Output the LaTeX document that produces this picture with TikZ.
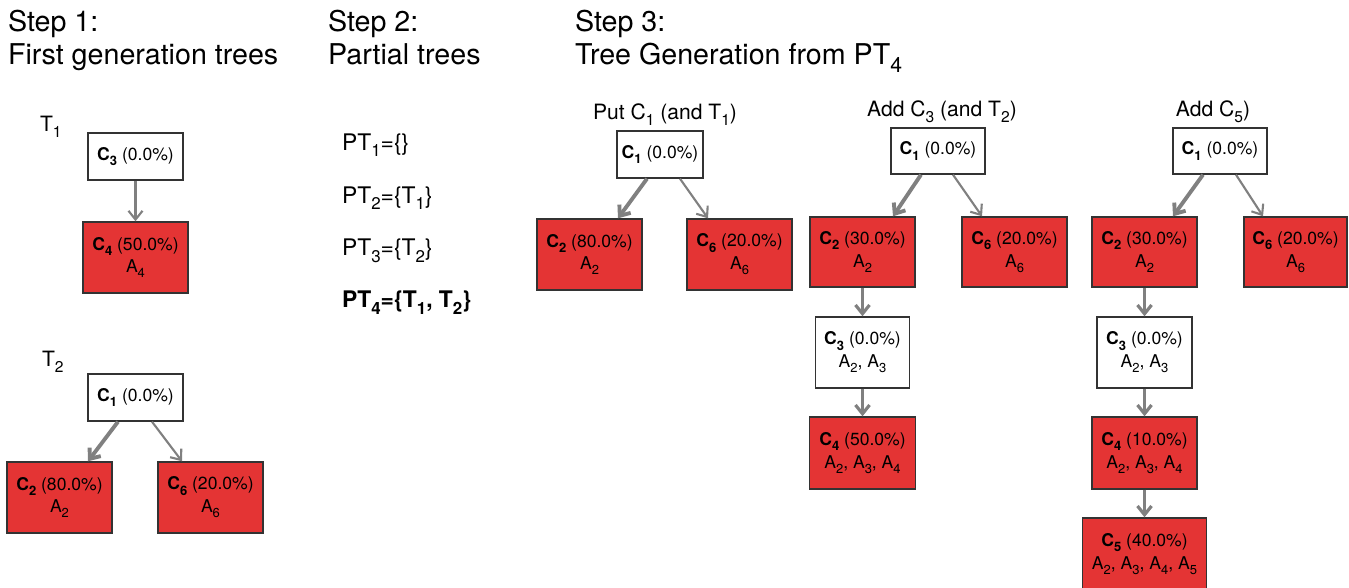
\documentclass[tikz,border=0pt]{standalone}
\usepackage{fontspec}
\setmainfont{TeX Gyre Heros}
\usepackage{xcolor}
\usetikzlibrary{arrows.meta}
\usetikzlibrary{positioning}

\definecolor{boxred}{RGB}{228,52,52}
\definecolor{arrgray}{RGB}{128,128,128}

\newcommand{\sbs}[1]{\raisebox{-0.55ex}{\scalebox{0.74}{#1}}}
\newcommand{\clab}[2]{\textbf{C\sbs{#1}} (#2\%)}
\newcommand{\asub}[1]{A\sbs{#1}}

\begin{document}
\begin{tikzpicture}[
			x=0.02cm, y=-0.02cm,
			every node/.style={font=\fontsize{10}{13}\selectfont, inner sep=1pt},
			title/.style={font=\fontsize{16.3}{18.7}\selectfont, align=left, anchor=north west},
			sub/.style={font=\fontsize{12}{14}\selectfont},
			ptlab/.style={font=\fontsize{13}{15}\selectfont, anchor=west},
			sz/.style 2 args={minimum width=#1*0.02cm, minimum height=#2*0.02cm},
			wbox/.style={draw=black!80, line width=0.8pt, fill=white, align=center},
			rbox/.style={wbox, fill=boxred},
			arr/.style={draw=arrgray, line width=1.2pt, -{Straight Barb[length=5pt,width=8pt]}},
			thk/.style={arr, line width=2.2pt}
		]
		\useasboundingbox (0,0) rectangle (1349,588);

		% step titles
		\node[title] (s1) at (6,8) {Step 1:\\First generation trees};
		\node[title] (s2) at (326,8) {Step 2:\\Partial trees};
		\node[title] (s3) at (573,8) {Step 3:\\Tree Generation from PT\sbs{4}};

		% step 1: tree T1
		\node[sub, anchor=west] (t1lab) at (38,127) {T\sbs{1}};
		\node[wbox, sz={95}{47}] (c3a) at (135.5,156.5) {\clab{3}{0.0}};
		\node[rbox, sz={105}{71}] (c4a) at (135.5,257.5) {\clab{4}{50.0}\\\asub{4}};
		\draw[arr] (c3a) -- (c4a);

		% step 1: tree T2
		\node[sub, anchor=west] (t2lab) at (40,362) {T\sbs{2}};
		\node[wbox, sz={95}{47}] (c1b) at (135.5,397.5) {\clab{1}{0.0}};
		\node[rbox, sz={105}{71}] (c2b) at (59.5,497.5) {\clab{2}{80.0}\\\asub{2}};
		\node[rbox, sz={105}{71}] (c6b) at (210.5,497.5) {\clab{6}{20.0}\\\asub{6}};
		\draw[thk] ([xshift=-0.35cm]c1b.south) -- ([xshift=0.57cm]c2b.north);
		\draw[arr] ([xshift=0.33cm]c1b.south) -- ([xshift=-0.57cm]c6b.north);

		% step 2: partial trees
		\node[ptlab] (pt1) at (340,145) {PT\sbs{1}=\{\}};
		\node[ptlab] (pt2) at (340,198) {PT\sbs{2}=\{T\sbs{1}\}};
		\node[ptlab] (pt3) at (340,251) {PT\sbs{3}=\{T\sbs{2}\}};
		\node[ptlab] (pt4) at (340,303) {\textbf{PT\sbs{4}=\{T\sbs{1}, T\sbs{2}\}}};

		% step 3: put C1
		\node[sub] (l1) at (665,115) {Put C\sbs{1} (and T\sbs{1})};
		\node[wbox, sz={86}{47}] (p1c1) at (660,154.5) {\clab{1}{0.0}};
		\node[rbox, sz={105}{71}] (p1c2) at (589.5,254.5) {\clab{2}{80.0}\\\asub{2}};
		\node[rbox, sz={105}{71}] (p1c6) at (739.5,254.5) {\clab{6}{20.0}\\\asub{6}};
		\draw[thk] ([xshift=-0.26cm]p1c1.south) -- ([xshift=0.57cm]p1c2.north);
		\draw[arr] ([xshift=0.4cm]p1c1.south) -- ([xshift=-0.63cm]p1c6.north);

		% step 3: add C3
		\node[sub] (l2) at (942,112) {Add C\sbs{3} (and T\sbs{2})};
		\node[wbox, sz={94}{46}] (p2c1) at (938,151) {\clab{1}{0.0}};
		\node[rbox, sz={105}{70}] (p2c2) at (862.5,252) {\clab{2}{30.0}\\\asub{2}};
		\node[rbox, sz={105}{70}] (p2c6) at (1014.5,252) {\clab{6}{20.0}\\\asub{6}};
		\node[wbox, sz={94}{71}] (p2c3) at (862.5,352.5) {\clab{3}{0.0}\\\asub{2}, \asub{3}};
		\node[rbox, sz={106}{72}] (p2c4) at (862.5,453) {\clab{4}{50.0}\\\asub{2}, \asub{3}, \asub{4}};
		\draw[thk] ([xshift=-0.34cm]p2c1.south) -- ([xshift=0.61cm]p2c2.north);
		\draw[arr] ([xshift=0.3cm]p2c1.south) -- ([xshift=-0.65cm]p2c6.north);
		\draw[arr, line width=1.8pt] (p2c2) -- (p2c3);
		\draw[arr, line width=1.8pt] (p2c3) -- (p2c4);

		% step 3: add C5
		\node[sub] (l3) at (1213,112) {Add C\sbs{5})};
		\node[wbox, sz={94}{46}] (p3c1) at (1220,151) {\clab{1}{0.0}};
		\node[rbox, sz={105}{70}] (p3c2) at (1144.5,252) {\clab{2}{30.0}\\\asub{2}};
		\node[rbox, sz={103}{70}] (p3c6) at (1295.5,252) {\clab{6}{20.0}\\\asub{6}};
		\node[wbox, sz={95}{71}] (p3c3) at (1144.5,352.5) {\clab{3}{0.0}\\\asub{2}, \asub{3}};
		\node[rbox, sz={105}{72}] (p3c4) at (1144.5,453) {\clab{4}{10.0}\\\asub{2}, \asub{3}, \asub{4}};
		\node[rbox, sz={124}{72}] (p3c5) at (1144.5,554) {\clab{5}{40.0}\\\asub{2}, \asub{3}, \asub{4}, \asub{5}};
		\draw[thk] ([xshift=-0.34cm]p3c1.south) -- ([xshift=0.57cm]p3c2.north);
		\draw[arr] ([xshift=0.32cm]p3c1.south) -- ([xshift=-0.65cm]p3c6.north);
		\draw[arr, line width=1.8pt] (p3c2) -- (p3c3);
		\draw[arr, line width=1.8pt] (p3c3) -- (p3c4);
		\draw[arr, line width=1.8pt] (p3c4) -- (p3c5);

	\end{tikzpicture}
\end{document}
